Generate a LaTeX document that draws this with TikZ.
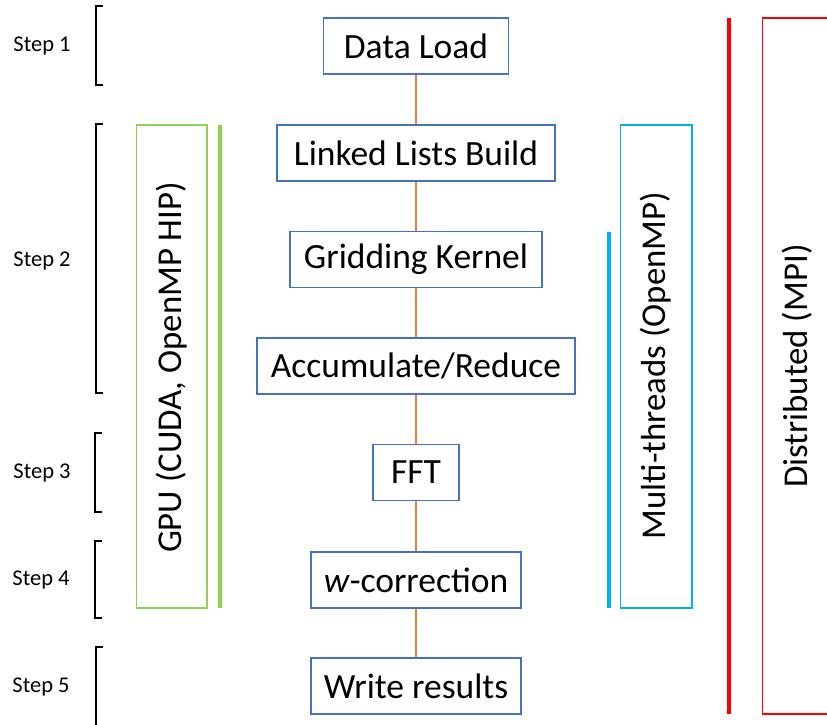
\documentclass[tikz,border=0pt]{standalone}
\usepackage{fontspec}
\setmainfont{Carlito}
\definecolor{boxblue}{HTML}{4472C4}
\definecolor{linkorange}{HTML}{ED7D31}
\definecolor{gpugreen}{HTML}{92D050}
\definecolor{mtcyan}{HTML}{00B0F0}
\definecolor{mpired}{HTML}{FF0000}
\tikzset{
  stepbox/.style={draw=boxblue, line width=1.6pt, minimum height=56pt, inner sep=0pt, fill=white,
    font=\fontsize{35.5}{40}\selectfont},
  link/.style={draw=linkorange, line width=1.6pt},
  steplabel/.style={font=\fontsize{22.5}{26}\selectfont, inner sep=0pt},
  bracket/.style={draw=black, line width=1.5pt},
  sidetext/.style={font=\fontsize{34.8}{40}\selectfont, rotate=90, inner sep=0pt},
  thinframe/.style={line width=1.6pt},
  thickbar/.style={line width=4.5pt}
}
\begin{document}
\begin{tikzpicture}[x=1pt,y=-1pt]
\clip (0,0) rectangle (827,724);
\fill[white] (0,0) rectangle (827,724);

\node[stepbox, minimum width=185pt] (dl) at (416,46) {Data Load};
\node[stepbox, minimum width=278pt] (ll) at (416,153) {Linked Lists Build};
\node[stepbox, minimum width=252pt] (gk) at (416,259.5) {Gridding Kernel};
\node[stepbox, minimum width=318pt] (ar) at (416,366) {Accumulate/Reduce};
\node[stepbox, minimum width=86pt] (fft) at (416,472.5) {FFT};
\node[stepbox, minimum width=210pt] (wc) at (416,580) {\textit{w}-correction};
\node[stepbox, minimum width=210pt] (wr) at (416,686) {Write results};

\draw[link] (dl.south) -- (ll.north);
\draw[link] (ll.south) -- (gk.north);
\draw[link] (gk.south) -- (ar.north);
\draw[link] (ar.south) -- (fft.north);
\draw[link] (fft.south) -- (wc.north);
\draw[link] (wc.south) -- (wr.north);

\node[steplabel] (s1) at (42,46) {Step 1};
\node[steplabel] (s2) at (42,261) {Step 2};
\node[steplabel] (s3) at (42,473) {Step 3};
\node[steplabel] (s4) at (41,580) {Step 4};
\node[steplabel] (s5) at (41,687) {Step 5};
\draw[bracket] (103,6) -- (96,6) -- (96,85) -- (103,85);
\draw[bracket] (103,124) -- (96,124) -- (96,393) -- (103,393);
\draw[bracket] (102,433) -- (95,433) -- (95,512) -- (102,512);
\draw[bracket] (102,541) -- (95,541) -- (95,618) -- (102,618);
\draw[bracket] (103,647) -- (96,647) -- (96,740);

\draw[gpugreen, thinframe] (136.5,125) rectangle (207,608);
\node[sidetext] (gpu) at (172,367.5) {GPU (CUDA, OpenMP HIP)};
\draw[gpugreen, thickbar] (220,125) -- (220,608);

\draw[mtcyan, thinframe] (620.5,125) rectangle (692,608);
\node[sidetext] (mt) at (656,365.5) {Multi-threads (OpenMP)};
\draw[mtcyan, thickbar] (609,232) -- (609,608);

\draw[mpired, thickbar] (729,18) -- (729,714);
\draw[mpired, thinframe] (762.5,18) rectangle (850,714);
\node[sidetext] (mpi) at (797,366) {Distributed (MPI)};
\end{tikzpicture}
\end{document}
